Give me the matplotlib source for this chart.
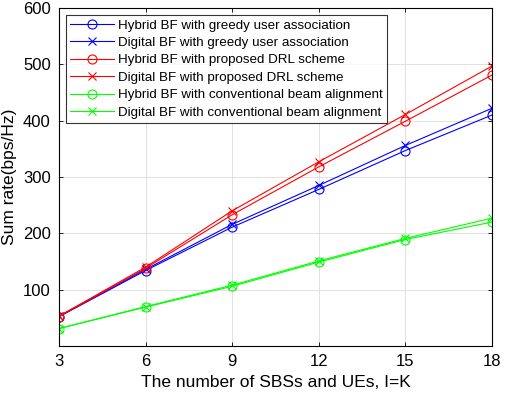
import matplotlib
matplotlib.use("Agg")
import matplotlib.pyplot as plt

plt.rcParams['font.family'] = ['Liberation Sans', 'DejaVu Sans']

x = [3, 6, 9, 12, 15, 18]

hybrid_greedy = [52, 134, 211, 278, 347, 410]
digital_greedy = [53, 136, 216, 285, 356, 422]
hybrid_drl = [52, 138, 233, 318, 399, 481]
digital_drl = [53, 140, 240, 327, 411, 497]
hybrid_conv = [31, 69, 106, 149, 189, 220]
digital_conv = [31, 70, 108, 151, 191, 227]

labels = [
    'Hybrid BF with greedy user association',
    'Digital BF with greedy user association',
    'Hybrid BF with proposed DRL scheme',
    'Digital BF with proposed DRL scheme',
    'Hybrid BF with conventional beam alignment',
    'Digital BF with conventional beam alignment',
]

fig = plt.figure(figsize=(5.29, 3.97), dpi=100)
ax = fig.add_axes([59 / 529, 1 - 346 / 397, 433 / 529, 338 / 397])

series = [
    (hybrid_greedy, '#0000ff', 'o'),
    (digital_greedy, '#0000ff', 'x'),
    (hybrid_drl, '#ff0000', 'o'),
    (digital_drl, '#ff0000', 'x'),
    (hybrid_conv, '#00ff00', 'o'),
    (digital_conv, '#00ff00', 'x'),
]
for (vals, c, m), lab in zip(series, labels):
    if m == 'o':
        ax.plot(x, vals, color=c, marker='o', markersize=6.5, markerfacecolor='none',
                markeredgewidth=0.8, linewidth=0.8, label=lab)
    else:
        ax.plot(x, vals, color=c, marker='x', markersize=5.5,
                markeredgewidth=0.8, linewidth=0.8, label=lab)

ax.set_xlim(3, 18)
ax.set_ylim(0, 600)
ax.set_xticks(x)
ax.set_yticks([100, 200, 300, 400, 500, 600])
ax.tick_params(direction='in', labelsize=12, length=3, top=True, right=True, width=0.6, pad=6)
ax.grid(True, color='#dcdcdc', linewidth=0.6)
for s in ax.spines.values():
    s.set_linewidth(0.8)

ax.set_xlabel('The number of SBSs and UEs, I=K', fontsize=12.5, labelpad=4)
ax.set_ylabel('Sum rate(bps/Hz)', fontsize=12.5, labelpad=4)

leg = ax.legend(loc='upper left', fontsize=9.6, frameon=True, fancybox=False,
                borderpad=0.3, labelspacing=0.38, handlelength=3.3, handletextpad=0.3,
                borderaxespad=0.55)
leg.get_frame().set_edgecolor('black')
leg.get_frame().set_linewidth(0.8)

fig.savefig('out.png', dpi=100)
